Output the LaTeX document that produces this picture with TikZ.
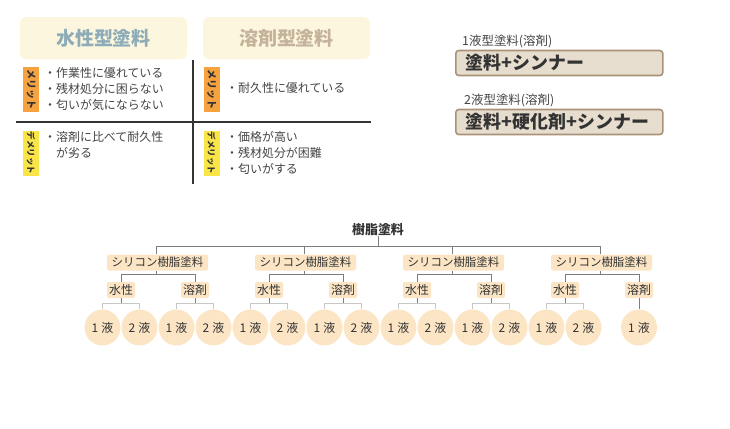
\documentclass[tikz,border=0pt]{standalone}
\usepackage{fontspec}
\setmainfont{Noto Sans CJK JP}
\definecolor{cream}{RGB}{253,246,222}
\definecolor{hblue}{RGB}{141,172,184}
\definecolor{htan}{RGB}{196,178,155}
\definecolor{tagor}{RGB}{246,163,63}
\definecolor{tagye}{RGB}{249,229,71}
\definecolor{txt}{RGB}{68,68,68}
\definecolor{dark}{RGB}{51,51,51}
\definecolor{beige}{RGB}{231,221,206}
\definecolor{brownb}{RGB}{170,146,120}
\definecolor{peach}{RGB}{252,229,197}
\definecolor{lgray}{RGB}{200,200,200}
\definecolor{mgray}{RGB}{125,125,125}
\begin{document}
\begin{tikzpicture}[x=1bp,y=-1bp,
  hdr/.style={rounded corners=6bp, minimum width=167bp, minimum height=42bp, inner sep=0, fill=cream, font=\fontsize{19}{21}\selectfont\bfseries},
  tag/.style={minimum width=16bp, minimum height=45bp, inner sep=0, text=dark, font=\fontsize{10}{10}\selectfont\bfseries},
  body/.style={anchor=west, inner sep=0, align=left, text=txt, font=\fontsize{12}{16}\selectfont},
  rule/.style={draw=dark, line width=1.2bp},
  lbl/.style={anchor=west, inner sep=0, text=txt, font=\fontsize{12.5}{14}\selectfont},
  mixbox/.style={draw=brownb, line width=1.6bp, fill=beige, rounded corners=3bp, text width=187bp, inner xsep=10bp, inner ysep=0, minimum height=25bp, align=left, anchor=west, text=dark, font=\fontsize{18}{20}\selectfont\bfseries},
  sil/.style={fill=peach, rounded corners=2bp, minimum width=101bp, minimum height=16bp, inner sep=0, text=dark, font=\fontsize{11.5}{13}\selectfont},
  kind/.style={sil, minimum width=28bp, font=\fontsize{12}{14}\selectfont},
  circ/.style={circle, fill=peach, minimum size=36bp, inner sep=0, text=dark, font=\fontsize{12}{14}\selectfont},
  tline/.style={draw=mgray, line width=1bp},
  lline/.style={draw=lgray, line width=1bp}]
\useasboundingbox (0,0) rectangle (730,428);

% ---- comparison table ----
\node[hdr, text=hblue] (hw) at (103.5,38) {水性型塗料};
\node[hdr, text=htan] (hs) at (286.5,38) {溶剤型塗料};
\coordinate (vt) at (193,60);
\coordinate (vb) at (193,184);
\coordinate (hl) at (16,122);
\coordinate (hr) at (371,122);
\draw[rule] (vt) -- (vb);
\draw[rule] (hl) -- (hr);

\node[tag, fill=tagor] (m1) at (31,89.5) {\rotatebox{-90}{メリット}};
\node[tag, fill=tagor] (m2) at (211.5,89.5) {\rotatebox{-90}{メリット}};
\node[tag, fill=tagye, font=\fontsize{8.5}{9}\selectfont\bfseries] (d1) at (31,153) {\rotatebox{-90}{デメリット}};
\node[tag, fill=tagye, font=\fontsize{8.5}{9}\selectfont\bfseries] (d2) at (211.5,153) {\rotatebox{-90}{デメリット}};

\node[body] (t1) at (44,89) {・作業性に優れている\\・残材処分に困らない\\・匂いが気にならない};
\node[body] (t2) at (226,88) {・耐久性に優れている};
\node[body] (t3) at (44,145) {・溶剤に比べて耐久性\\\phantom{・}が劣る};
\node[body] (t4) at (226,152.5) {・価格が高い\\・残材処分が困難\\・匂いがする};

% ---- right boxes ----
\node[lbl] (l1) at (462,41) {1液型塗料(溶剤)};
\node[mixbox] (b1) at (455,63) {塗料+シンナー};
\node[lbl] (l2) at (464,100) {2液型塗料(溶剤)};
\node[mixbox] (b2) at (455,122) {塗料+硬化剤+シンナー};

% ---- tree ----
\node[inner sep=0, text=dark, font=\fontsize{13}{15}\selectfont\bfseries] (root) at (378,230) {樹脂塗料};
\coordinate (rj) at (378,246);

\foreach \i/\cx in {1/156,2/304,3/452,4/600}{
  \node[sil] (s\i) at (\cx+1.5,262.5) {シリコン樹脂塗料};
  \coordinate (sj\i) at (\cx,246);
  \coordinate (sk\i) at (\cx,274);
  \node[kind] (w\i) at (\cx-35,290) {水性};
  \node[kind] (o\i) at (\cx+39,290) {溶剤};
  \coordinate (wj\i) at (\cx-35,274);
  \coordinate (oj\i) at (\cx+39,274);
  \draw[tline] (sj\i) -- (s\i.north -| sj\i);
  \draw[tline] (s\i.south -| sk\i) -- (sk\i);
  \draw[tline] (wj\i) -- (oj\i);
  \draw[tline] (wj\i) -- (w\i.north);
  \draw[tline] (oj\i) -- (o\i.north);
  % water-based children
  \node[circ] (wa\i) at (\cx-53.5,327.5) {1\hspace{3bp}液};
  \node[circ] (wb\i) at (\cx-16.5,327.5) {2\hspace{3bp}液};
  \coordinate (wm\i) at (\cx-35,303);
  \draw[tline] (w\i.south) -- (wm\i);
  \draw[lline] (wa\i.north |- wm\i) -- (wb\i.north |- wm\i);
  \draw[lline] (wa\i.north |- wm\i) -- (wa\i.north);
  \draw[lline] (wb\i.north |- wm\i) -- (wb\i.north);
}
\draw[tline] (sj1) -- (sj4);
\draw[tline] (root.south) -- (rj);

% solvent children
\foreach \i/\cx in {1/156,2/304,3/452}{
  \node[circ] (oa\i) at (\cx+20.5,327.5) {1\hspace{3bp}液};
  \node[circ] (ob\i) at (\cx+57.5,327.5) {2\hspace{3bp}液};
  \coordinate (om\i) at (\cx+39,303);
  \draw[tline] (o\i.south) -- (om\i);
  \draw[lline] (oa\i.north |- om\i) -- (ob\i.north |- om\i);
  \draw[lline] (oa\i.north |- om\i) -- (oa\i.north);
  \draw[lline] (ob\i.north |- om\i) -- (ob\i.north);
}
\node[circ] (oa4) at (639,327.5) {1\hspace{3bp}液};
\draw[tline] (o4.south) -- (oa4.north);
\end{tikzpicture}
\end{document}
